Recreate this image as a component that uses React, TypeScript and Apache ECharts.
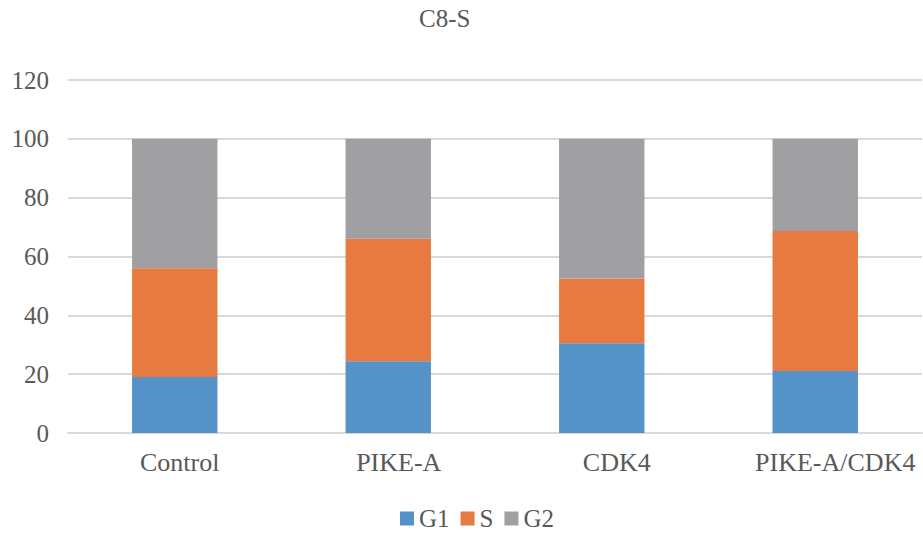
import React, { useEffect, useRef } from "react";
import * as echarts from "echarts";

const categories = ["Control", "PIKE-A", "CDK4", "PIKE-A/CDK4"];
const g1 = [19, 24.4, 30.5, 21.1];
const s = [37, 41.6, 22, 47.6];
const g2 = [44, 34, 47.5, 31.3];
const yTicks = { min: 0, max: 120, interval: 20 };

export default function App() {
  const ref = useRef<HTMLDivElement>(null);
  useEffect(() => {
    const chart = echarts.init(ref.current!, null, { renderer: "svg" });
    const font = "Liberation Serif";
    const txt = "#595959";
    const labelShift = [10, 21, 30, 40];
    const rich: Record<string, any> = {};
    labelShift.forEach((p, i) => {
      rich["c" + i] = { fontFamily: font, fontSize: 26, color: txt, padding: [0, 0, 0, p] };
    });
    chart.setOption({
      animation: false,
      textStyle: { fontFamily: font },
      title: {
        text: "C8-S",
        left: 419,
        top: 6,
        padding: 0,
        textStyle: { fontFamily: font, fontSize: 25, fontWeight: "normal", color: txt },
      },
      legend: {
        top: 506,
        left: 400,
        padding: 0,
        itemWidth: 14,
        itemHeight: 14,
        itemGap: 11,
        icon: "rect",
        textStyle: { fontFamily: font, fontSize: 25, color: txt },
        data: ["G1", "S", "G2"],
      },
      grid: { left: 68, right: 1, top: 80, bottom: 103, containLabel: false },
      xAxis: {
        type: "category",
        data: categories,
        axisLine: { lineStyle: { color: "#d9d9d9", width: 2 } },
        axisTick: { show: false },
        axisLabel: {
          interval: 0,
          hideOverlap: false,
          fontFamily: font,
          fontSize: 26,
          color: txt,
          margin: 16,
          rich,
          formatter: (v: string, i: number) => `{c${i}|${v}}`,
        },
      },
      yAxis: {
        type: "value",
        min: yTicks.min,
        max: yTicks.max,
        interval: yTicks.interval,
        axisLine: { show: false },
        axisTick: { show: false },
        splitLine: { lineStyle: { color: "#d9d9d9", width: 2 } },
        axisLabel: { fontFamily: font, fontSize: 25, color: txt, margin: 19 },
      },
      series: [
        { name: "G1", type: "bar", stack: "a", data: g1, barWidth: "40%", itemStyle: { color: "#5592c8" } },
        { name: "S", type: "bar", stack: "a", data: s, barWidth: "40%", itemStyle: { color: "#e67a40" } },
        { name: "G2", type: "bar", stack: "a", data: g2, barWidth: "40%", itemStyle: { color: "#a0a0a3" } },
      ],
    });
    return () => chart.dispose();
  }, []);
  return <div ref={ref} style={{ position: "fixed", left: 0, top: 0, width: 923, height: 536, background: "#fff" }} />;
}
